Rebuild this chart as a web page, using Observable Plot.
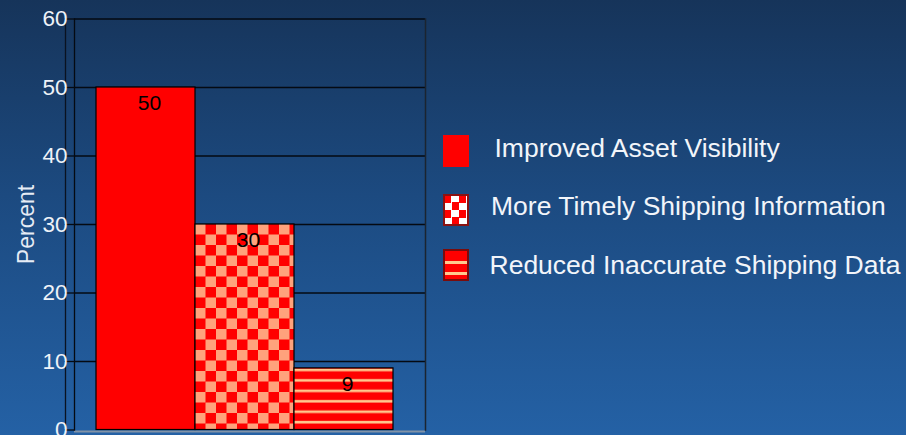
<!DOCTYPE html>
<html><head><meta charset="utf-8">
<script src="https://cdn.jsdelivr.net/npm/d3@7"></script>
<script src="https://cdn.jsdelivr.net/npm/@observablehq/plot@0.6"></script>
<style>
html,body{margin:0;padding:0;}
body{width:906px;height:435px;overflow:hidden;position:relative;
  background:linear-gradient(to bottom,#16345a 0%,#1c4a80 45%,#2461a5 100%);
  font-family:"Liberation Sans",Arial,sans-serif;}
#chart{position:absolute;left:0;top:0;}
#legend{position:absolute;left:0;top:0;width:906px;height:435px;}
.sw{position:absolute;width:26px;height:32px;box-sizing:border-box;}
.lt{position:absolute;white-space:nowrap;color:#f2f5fa;font-size:26.5px;line-height:26px;}
</style></head><body>
<div id="chart"></div>
<div id="legend"></div>
<script>
const categories = ["Improved Asset Visibility", "More Timely Shipping Information", "Reduced Inaccurate Shipping Data"];
const values = [50, 30, 9];
const fills = ["solid", "checker", "stripes"];
const yTicks = [0, 10, 20, 30, 40, 50, 60];
const gridValues = [10, 20, 30, 40, 50, 60];
const yLabel = "Percent";

const data = categories.map((c, i) => ({cat: c, value: values[i], fill: fills[i]}));

const NS = "http://www.w3.org/2000/svg";
function el(name, attrs) {
  const e = document.createElementNS(NS, name);
  for (const k in attrs) e.setAttribute(k, attrs[k]);
  return e;
}
// pattern definitions aligned to the bars via the scales
function defsMark(index, scales) {
  const defs = el("defs", {});
  const cx = scales.x(categories[1]);
  const cy = scales.y(values[1]);
  const p1 = el("pattern", {id: "pat-checker", patternUnits: "userSpaceOnUse", width: 21, height: 21, x: cx, y: cy});
  p1.appendChild(el("rect", {x: 0, y: 0, width: 21, height: 21, fill: "#ff0000"}));
  p1.appendChild(el("rect", {x: 0, y: 0, width: 10.5, height: 10.5, fill: "#ffa27c"}));
  p1.appendChild(el("rect", {x: 10.5, y: 10.5, width: 10.5, height: 10.5, fill: "#ffa27c"}));
  defs.appendChild(p1);
  const sx = scales.x(categories[2]);
  const sy = scales.y(values[2]);
  const p2 = el("pattern", {id: "pat-stripes", patternUnits: "userSpaceOnUse", width: 20, height: 10.45, x: sx, y: sy});
  p2.appendChild(el("rect", {x: 0, y: 0, width: 20, height: 10.45, fill: "#ff0000"}));
  p2.appendChild(el("rect", {x: 0, y: 0.8, width: 20, height: 2.6, fill: "#ffc88e"}));
  defs.appendChild(p2);
  const g = el("g", {});
  g.appendChild(defs);
  return g;
}
const fillFor = {solid: "#ff0000", checker: "url(#pat-checker)", stripes: "url(#pat-stripes)"};

const chart = Plot.plot({
  width: 906,
  height: 435,
  marginTop: 18.5,
  marginBottom: 5.5,
  marginLeft: 74,
  marginRight: 481,
  style: {background: "transparent", overflow: "visible", fontFamily: "'Liberation Sans', Arial, sans-serif"},
  x: {type: "band", domain: categories, padding: 0, insetLeft: 20.5, insetRight: 31.5, axis: null},
  y: {domain: [0, 60], axis: null},
  color: {type: "identity"},
  marks: [
    defsMark,
    Plot.ruleY(gridValues, {stroke: "#050a12", strokeWidth: 1.3}),
    Plot.ruleY([0], {stroke: "#8193a8", strokeWidth: 2, dy: 1.5}),
    Plot.frame({anchor: "left", stroke: "#050a12", strokeWidth: 1.3}),
    Plot.frame({anchor: "left", stroke: "#0a1220", strokeWidth: 1.3, dx: -9}),
    Plot.frame({anchor: "right", stroke: "#1b2430", strokeWidth: 1.5}),
    Plot.axisY({
      ticks: yTicks, tickSize: 10, tickPadding: -3, fontSize: 22.5,
      stroke: "#050a12", strokeWidth: 1.3, color: "#eef2f8", fill: "#eef2f8", label: null,
      tickFormat: d => String(d)
    }),
    Plot.barY(data, {x: "cat", y: "value", fill: d => fillFor[d.fill], stroke: "#000", strokeWidth: 1.2}),
    Plot.text(data, {x: "cat", y: "value", text: d => String(d.value), dy: 15.5, dx: 3.5, fontSize: 21, fill: "#000", lineAnchor: "middle"}),
    Plot.text([yLabel], {frameAnchor: "left", text: d => d, rotate: -90, dx: -41, lineAnchor: "bottom", textAnchor: "middle", fontSize: 23, fill: "#e6ecf5"})
  ]
});
document.getElementById("chart").appendChild(chart);
d3.select(chart).selectAll('g[aria-label="y-axis tick label"]').style("font-size", "22.5px");
d3.select(chart).selectAll('g[aria-label="y-axis tick label"] text').style("font-size", "22.5px");

// legend
const legend = document.getElementById("legend");
const swStyles = {
  solid: "background:#ff0000;",
  checker: "border:2px solid #8a1212;background-color:#ffffff;background-image:conic-gradient(#ffffff 25%,#ff0000 0 50%,#ffffff 0 75%,#ff0000 0);background-size:15px 15px;background-position:-1px -1px;",
  stripes: "border:2px solid #7a0c0c;background:linear-gradient(to bottom,#ff0000 0,#ff0000 10px,#ffc88e 10px,#ffc88e 13px,#ff0000 13px,#ff0000 21px,#ffc88e 21px,#ffc88e 24px,#ff0000 24px);"
};
const swTops = [135, 193.5, 249];
const textLefts = [494.5, 491, 489.5];
const textTops = [135, 193.3, 251.5];
categories.forEach((c, i) => {
  const s = document.createElement("div");
  s.className = "sw";
  s.style.cssText = `left:443px;top:${swTops[i]}px;` + swStyles[fills[i]];
  legend.appendChild(s);
  const t = document.createElement("div");
  t.className = "lt";
  t.style.left = textLefts[i] + "px";
  t.style.top = textTops[i] + "px";
  t.textContent = c;
  legend.appendChild(t);
});
</script>
</body></html>
